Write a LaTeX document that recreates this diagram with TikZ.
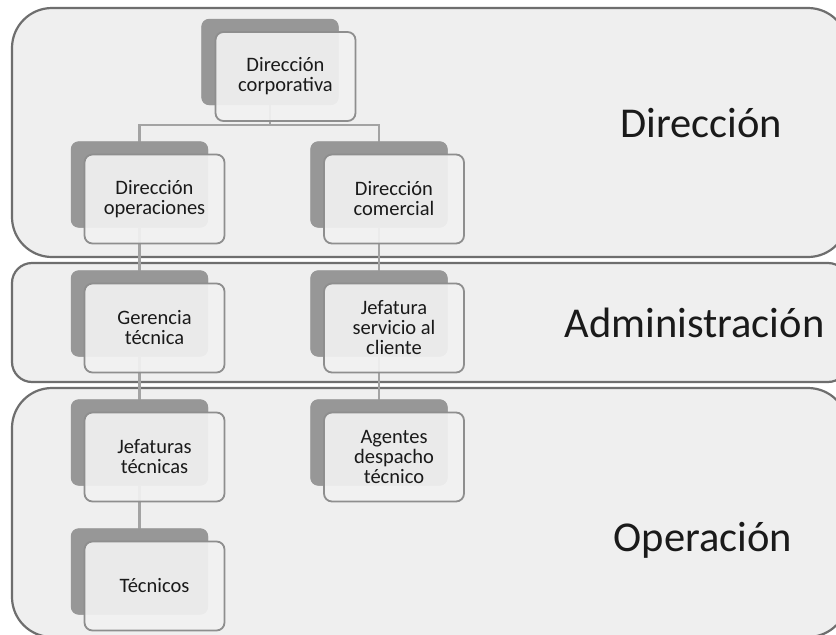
\documentclass[tikz,border=0pt]{standalone}
\usepackage{fontspec}
\setmainfont{Carlito}
\begin{document}
\begin{tikzpicture}[x=1pt,y=-1pt]
  \definecolor{bandfill}{HTML}{EFEFEF}
  \definecolor{bandline}{HTML}{6E6E6E}
  \definecolor{backcard}{HTML}{979797}
  \definecolor{cardfill}{HTML}{F2F2F2}
  \definecolor{cardline}{HTML}{8E8E8E}
  \definecolor{linkline}{HTML}{A3A3A3}
  \definecolor{inkc}{HTML}{1A1A1A}
  \tikzset{
    band/.style={draw=bandline, line width=2.2pt, fill=bandfill},
    backbox/.style={rectangle, rounded corners=8pt, fill=backcard,
      minimum width=137pt, minimum height=86pt, inner sep=0pt},
    frontbox/.style={rectangle, rounded corners=8pt, draw=cardline,
      line width=1.8pt, fill=cardfill, fill opacity=0.92, text opacity=1,
      minimum width=140pt, minimum height=89pt, inner sep=0pt,
      align=center, text=inkc, font=\fontsize{20.5}{20}\selectfont},
    conn/.style={draw=linkline, line width=2.2pt},
    levellabel/.style={anchor=base, text=inkc, font=\fontsize{42.5}{48}\selectfont, inner sep=0pt}
  }
  \useasboundingbox (0,0) rectangle (836,635);
  \fill[white] (0,0) rectangle (836,635);
  \clip (0,0) rectangle (836,635);

  % level bands
  \draw[band, rounded corners=40pt] (12,8) rectangle (848,257);
  \draw[band, rounded corners=20pt] (12,263) rectangle (848,382);
  \draw[band, rounded corners=40pt] (12,388) rectangle (848,637);

  % back cards (positions)
  \node[backbox] (s1) at (270,62) {};
  \node[backbox] (s2) at (139.5,184.5) {};
  \node[backbox] (s3) at (379,184.5) {};
  \node[backbox] (s4) at (139.5,313.5) {};
  \node[backbox] (s5) at (379,313.5) {};
  \node[backbox] (s6) at (139.5,442.5) {};
  \node[backbox] (s7) at (379,442.5) {};
  \node[backbox] (s8) at (139.5,571.5) {};

  % connectors
  \path (s1.center) ++(0,63) coordinate (j1);
  \draw[conn] (s1.center) -- (j1) -| (s2.center);
  \draw[conn] (j1) -| (s3.center);
  \draw[conn] (s2.center) -- (s4.center);
  \draw[conn] (s4.center) -- (s6.center);
  \draw[conn] (s6.center) -- (s8.center);
  \draw[conn] (s3.center) -- (s5.center);
  \draw[conn] (s5.center) -- (s7.center);

  % back cards drawn again over the connectors
  \foreach \n in {s1,s2,s3,s4,s5,s6,s7,s8}
    \fill[backcard, rounded corners=8pt] (\n.south west) rectangle (\n.north east);

  % front cards with text
  \node[frontbox] (f1) at ([shift={(15.5,14.5)}]s1.center) {Dirección\\corporativa};
  \node[frontbox] (f2) at ([shift={(15,14.5)}]s2.center) {Dirección\\operaciones};
  \node[frontbox] (f3) at ([shift={(15,14.5)}]s3.center) {Dirección\\comercial};
  \node[frontbox] (f4) at ([shift={(15,14.5)}]s4.center) {Gerencia\\técnica};
  \node[frontbox] (f5) at ([shift={(15,14.5)}]s5.center) {Jefatura\\servicio al\\cliente};
  \node[frontbox] (f6) at ([shift={(15,14.5)}]s6.center) {Jefaturas\\técnicas};
  \node[frontbox] (f7) at ([shift={(15,14.5)}]s7.center) {Agentes\\despacho\\técnico};
  \node[frontbox] (f8) at ([shift={(15,14.5)}]s8.center) {Técnicos};

  % level names
  \node[levellabel] (l1) at (701,137) {Dirección};
  \node[levellabel] (l2) at (694.5,337) {Administración};
  \node[levellabel] (l3) at (703,551) {Operación};
\end{tikzpicture}
\end{document}
